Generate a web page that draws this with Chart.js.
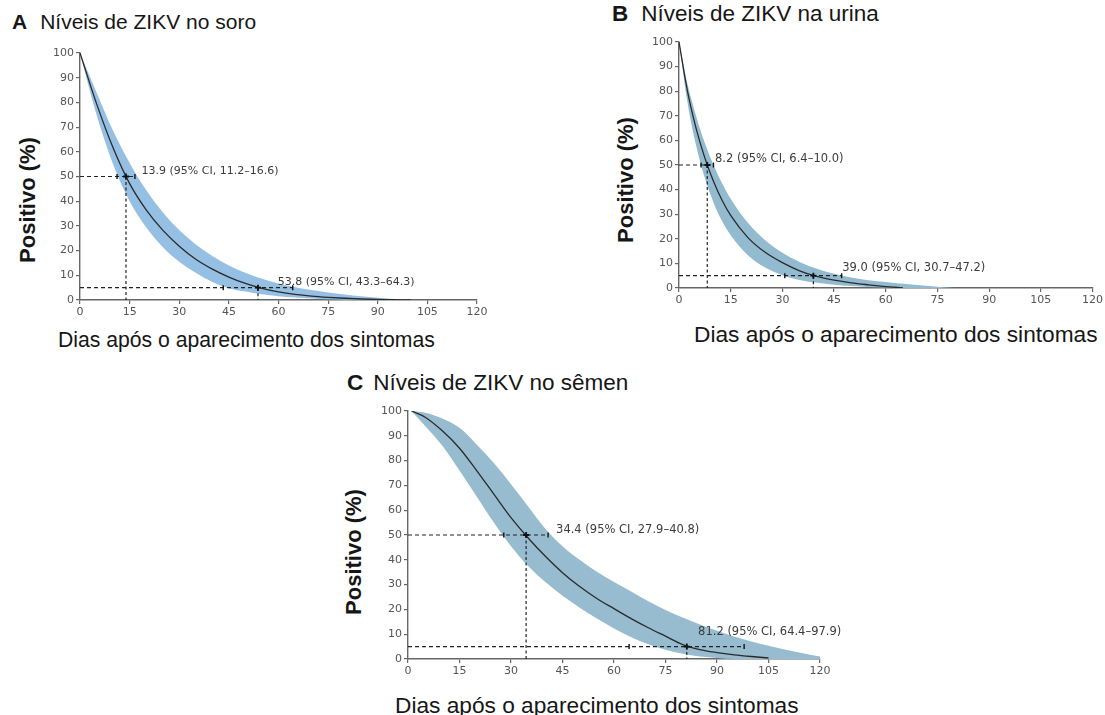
<!DOCTYPE html>
<html><head><meta charset="utf-8">
<script src="https://cdn.jsdelivr.net/npm/chart.js@4.4.1/dist/chart.umd.min.js"></script>
<style>
body{margin:0;width:1105px;height:715px;background:#fff;position:relative;overflow:hidden;font-family:"Liberation Sans",Arial,sans-serif;color:#161616}
canvas{position:absolute}
.t{position:absolute;white-space:nowrap;line-height:1}
.yt{position:absolute;white-space:nowrap;line-height:1;font-weight:bold;transform:translate(-50%,-50%) rotate(-90deg)}
</style></head><body>
<div class="t" style="left:12px;top:10.5px;font-size:21px"><b>A</b><span style="margin-left:13px">Níveis de ZIKV no soro</span></div>
<div class="t" style="left:612px;top:2.5px;font-size:22.5px"><b>B</b><span style="margin-left:13px">Níveis de ZIKV na urina</span></div>
<div class="t" style="left:347px;top:371.5px;font-size:22.5px"><b>C</b><span style="margin-left:10px">Níveis de ZIKV no sêmen</span></div>
<div class="t" style="left:58px;top:329px;font-size:21.2px">Dias após o aparecimento dos sintomas</div>
<div class="t" style="left:694px;top:322.5px;font-size:22.7px">Dias após o aparecimento dos sintomas</div>
<div class="t" style="left:395px;top:694px;font-size:22.7px">Dias após o aparecimento dos sintomas</div>
<div class="yt" style="left:28px;top:200px;font-size:22px">Positivo (%)</div>
<div class="yt" style="left:626px;top:180px;font-size:22px">Positivo (%)</div>
<div class="yt" style="left:354px;top:552px;font-size:22px">Positivo (%)</div>
<canvas id="cA" width="500" height="285" style="left:0;top:40px"></canvas>
<canvas id="cB" width="505" height="283" style="left:600px;top:30px"></canvas>
<canvas id="cC" width="560" height="286" style="left:330px;top:398px"></canvas>
<script>
// Tick labels
const xTicks = [0, 15, 30, 45, 60, 75, 90, 105, 120];
const yTicks = [0, 10, 20, 30, 40, 50, 60, 70, 80, 90, 100];
const levels = [50, 5];

// Panel A: soro
const daysA   = [0, 5, 10, 15, 20, 25, 30, 35, 40, 45, 50, 55, 60, 65, 70, 75, 80, 85, 90, 95, 100];
const medianA = [100, 79.5, 61.6, 47.1, 36.5, 28.3, 21.8, 16.5, 12.5, 9.3, 6.7, 4.7, 3.3, 2.3, 1.6, 1.1, 0.7, 0.4, 0.2, 0.1, 0];
const upperA  = [100, 84, 68.5, 55.5, 44.5, 35.5, 28.3, 22.5, 17.8, 14, 11, 8.6, 6.7, 5.2, 4.0, 3.0, 2.2, 1.5, 0.9, 0.4, 0];
const lowerA  = [100, 75, 55, 40, 29.5, 21.5, 15.5, 11, 7.3, 4.8, 3.4, 2.3, 1.5, 1.0, 0.6, 0.3, 0.1, 0, 0, 0, 0];
const estA    = [13.9, 53.8];
const ciLowA  = [11.2, 43.3];
const ciHighA = [16.6, 64.3];

// Panel B: urina
const daysB   = [0, 2.5, 5, 7.5, 10, 12.5, 15, 20, 25, 30, 35, 40, 45, 50, 55, 60, 65, 70, 75, 80];
const medianB = [100, 79.7, 64.7, 52.9, 43.4, 35.7, 29.5, 20.5, 14.5, 10.3, 7.0, 4.7, 3.2, 2.1, 1.3, 0.6, 0, null, null, null];
const upperB  = [100, 82.8, 69.7, 58.9, 50, 42.6, 36.3, 26.5, 19.4, 14.3, 10.6, 7.8, 5.8, 4.3, 3.2, 2.4, 1.7, 1.1, 0.5, 0];
const lowerB  = [100, 75.1, 57.7, 44.7, 34.8, 27.2, 21.4, 13.3, 8.3, 5.2, 3.3, 2.1, 1.3, 0.8, 0.4, 0.2, 0, 0, 0, 0];
const estB    = [8.2, 39.0];
const ciLowB  = [6.4, 30.7];
const ciHighB = [10.0, 47.2];

// Panel C: sêmen
const daysC   = [1, 5, 10, 15, 20, 25, 30, 35, 40, 45, 50, 55, 60, 65, 70, 75, 80, 85, 90, 95, 100, 105, 110, 115, 120];
const medianC = [100, 97.5, 92, 85, 76, 66.5, 57, 48.8, 41.4, 34.8, 29.2, 24.4, 20.3, 16.3, 12.6, 9.2, 5.8, 3.8, 2.6, 1.7, 1.0, 0.4, null, null, null];
const upperC  = [100, 99.3, 97, 93.2, 86.5, 79, 70.5, 61.5, 52.5, 45.5, 40, 35.2, 31, 27.2, 23.3, 19.8, 16.7, 13.9, 11.4, 9.1, 7.1, 5.3, 3.7, 2.3, 1.0];
const lowerC  = [100, 94, 86, 76, 65.5, 55, 45.5, 37.5, 31, 25.5, 20.7, 16.3, 12.3, 8.8, 5.9, 3.7, 2.1, 1.0, 0.4, 0, 0, 0, 0, 0, 0];
const estC    = [34.4, 81.2];
const ciLowC  = [27.9, 64.4];
const ciHighC = [40.8, 97.9];

const pts = (xs, ys) => xs.map((x, i) => ({x: x, y: ys[i]}));
const fmt = v => v.toFixed(1);

function makeChart(id, d, s) {
  const datasets = [
    {data: pts(d.days, d.upper), borderWidth: 0, pointRadius: 0, fill: '+1', backgroundColor: s.band, borderColor: s.band, cubicInterpolationMode: 'monotone', order: 5},
    {data: pts(d.days, d.lower), borderWidth: 0, pointRadius: 0, fill: false, borderColor: s.band, cubicInterpolationMode: 'monotone', order: 5},
    {data: pts(d.days, d.median), borderWidth: 1.3, borderColor: '#2a2a2a', pointRadius: 0, fill: false, cubicInterpolationMode: 'monotone', order: 3}
  ];
  levels.forEach((L, i) => {
    datasets.push({data: [{x: 0, y: L}, {x: d.ciHigh[i], y: L}], borderColor: '#222', borderWidth: 1.2, borderDash: [4, 3], pointRadius: 0, fill: false, tension: 0, order: 1});
    datasets.push({data: [{x: d.est[i], y: L}, {x: d.est[i], y: 0}], borderColor: '#222', borderWidth: 1.2, borderDash: [3, 2.5], pointRadius: 0, fill: false, tension: 0, order: 1});
    datasets.push({data: [{x: d.ciLow[i], y: L}, {x: d.est[i], y: L}, {x: d.ciHigh[i], y: L}], showLine: false,
      pointStyle: ['line', 'cross', 'line'], rotation: [90, 0, 90], pointRadius: [2.5, 3, 2.5],
      pointBorderWidth: [1.4, 1.8, 1.4], pointBorderColor: '#111', pointBackgroundColor: '#111', order: 0});
  });
  const labelPlugin = {
    id: 'ciLabels',
    afterDatasetsDraw(chart) {
      const {ctx, scales: {x, y}} = chart;
      ctx.save();
      ctx.font = s.labelFont;
      ctx.fillStyle = '#3c3c3c';
      ctx.textBaseline = 'middle';
      ctx.textAlign = 'left';
      d.est.forEach((e, i) => {
        const txt = fmt(e) + ' (95% CI, ' + fmt(d.ciLow[i]) + '–' + fmt(d.ciHigh[i]) + ')';
        ctx.fillText(txt, x.getPixelForValue(d.ciHigh[i]) + s.labelOff[i][0], y.getPixelForValue(levels[i]) + s.labelOff[i][1]);
      });
      ctx.restore();
    }
  };
  const tickFont = {family: 'DejaVu Sans', size: s.tickSize};
  return new Chart(document.getElementById(id), {
    type: 'line',
    data: {datasets: datasets},
    plugins: [labelPlugin],
    options: {
      responsive: false, animation: false, devicePixelRatio: 1,
      layout: {padding: {left: 0, top: s.padTop, right: s.padRight, bottom: 0}},
      plugins: {legend: {display: false}, tooltip: {enabled: false}},
      scales: {
        x: {type: 'linear', min: 0, max: 120,
          afterBuildTicks: sc => { sc.ticks = xTicks.map(v => ({value: v})); },
          afterFit: sc => { sc.height = 25; },
          ticks: {font: tickFont, color: '#555', padding: 2, maxRotation: 0, autoSkip: false, callback: v => String(v)},
          grid: {drawOnChartArea: false, drawTicks: true, tickLength: 4, color: '#666', lineWidth: 1.2},
          border: {display: true, color: '#666', width: 1.4}},
        y: {type: 'linear', min: 0, max: 100,
          afterBuildTicks: sc => { sc.ticks = yTicks.map(v => ({value: v})); },
          afterFit: sc => { sc.width = s.yWidth; },
          ticks: {font: tickFont, color: '#555', padding: 2, autoSkip: false, callback: v => String(v)},
          grid: {drawOnChartArea: false, drawTicks: true, tickLength: 4, color: '#666', lineWidth: 1.2},
          border: {display: true, color: '#666', width: 1.4}}
      }
    }
  });
}

makeChart('cA', {days: daysA, median: medianA, upper: upperA, lower: lowerA, est: estA, ciLow: ciLowA, ciHigh: ciHighA},
  {band: '#95bfe3', yWidth: 80, padTop: 13, padRight: 23, tickSize: 11, labelFont: '11px "DejaVu Sans"', labelOff: [[6.6, -5], [-15, -6]]});
makeChart('cB', {days: daysB, median: medianB, upper: upperB, lower: lowerB, est: estB, ciLow: ciLowB, ciHigh: ciHighB},
  {band: '#93bbd0', yWidth: 79, padTop: 12, padRight: 12, tickSize: 11, labelFont: '11.5px "DejaVu Sans"', labelOff: [[1.5, -6], [0.5, -7.4]]});
makeChart('cC', {days: daysC, median: medianC, upper: upperC, lower: lowerC, est: estC, ciLow: ciLowC, ciHigh: ciHighC},
  {band: '#97bbcf', yWidth: 78, padTop: 13, padRight: 70, tickSize: 11, labelFont: '11.5px "DejaVu Sans"', labelOff: [[8, -5], [-46, -15]]});
</script>
</body></html>
